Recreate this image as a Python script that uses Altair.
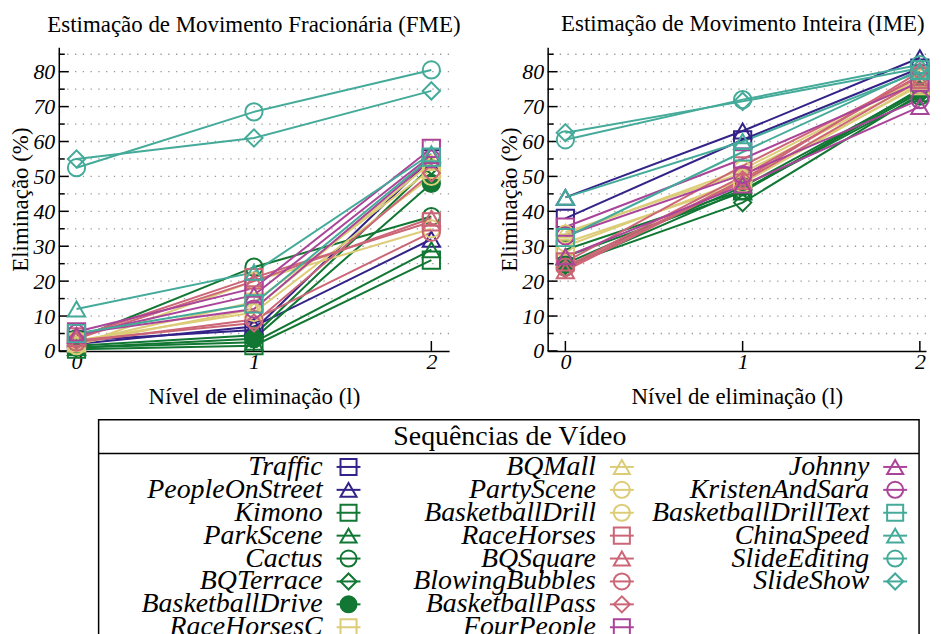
import altair as alt
import pandas as pd

NAMES = ["Traffic", "PeopleOnStreet", "Kimono", "ParkScene", "Cactus", "BQTerrace",
         "BasketballDrive", "RaceHorsesC", "BQMall", "PartyScene", "BasketballDrill",
         "RaceHorses", "BQSquare", "BlowingBubbles", "BasketballPass", "FourPeople",
         "Johnny", "KristenAndSara", "BasketballDrillText", "ChinaSpeed",
         "SlideEditing", "SlideShow"]

INDIGO, GREEN, SAND, ROSE, PURPLE, TEAL = "#332288", "#117733", "#DDCC77", "#CC6677", "#AA4499", "#44AA99"
COLORS = [INDIGO] * 2 + [GREEN] * 5 + [SAND] * 4 + [ROSE] * 4 + [PURPLE] * 3 + [TEAL] * 4
SHAPES = ["square", "triangle-up", "square", "triangle-up", "circle", "diamond",
          "circle", "square", "triangle-up", "circle", "circle",
          "square", "triangle-up", "circle", "diamond", "square",
          "triangle-up", "circle", "square", "triangle-up", "circle", "diamond"]
FILLS = ["transparent"] * 6 + [GREEN] + ["transparent"] * 15

LEVELS = [0, 1, 2]

# Fractional motion estimation (FME), elimination % per level
FME_L0 = [3, 2, 0.5, 1, 3.5, 1.5, 1, 2.5, 2, 1.5, 3, 4, 3.5, 2.5, 3, 5.5, 4.5, 5, 5, 12, 52.5, 55]
FME_L1 = [6, 7, 1.5, 2.5, 24, 4.5, 3.5, 14, 12, 20, 11, 21, 20, 9, 8, 18, 16, 12, 13.5, 22.5, 68.5, 61]
FME_L2 = [55, 32, 26, 29, 38.5, 53, 48, 52, 54, 35, 50, 37, 38, 34, 51, 58, 56, 55, 55.5, 56.5, 80.5, 74.5]

# Integer motion estimation (IME)
IME_L0 = [38, 44, 29, 27, 24, 24.5, 25, 30, 34, 31, 33.5, 25.5, 23, 24, 23.5, 35.5, 27, 33, 32.5, 44, 60.5, 62.5]
IME_L1 = [60.5, 63, 46, 45.5, 46, 42.5, 47, 49, 51, 48, 52, 53, 48.5, 50, 49, 55, 47.5, 50.5, 57, 60, 72, 71.5]
IME_L2 = [81, 84, 74, 75, 73, 73.5, 74.5, 76, 77, 76.5, 78, 78.5, 77.5, 79, 80, 77, 70, 72, 80.5, 80, 82, 81]

GRID_VALUES = [5, 10, 15, 20, 25, 30, 35, 40, 45, 50, 55, 60, 65, 70, 75, 80, 85]
MAJOR_TICKS = [0, 10, 20, 30, 40, 50, 60, 70, 80]
MINOR_TICKS = [5, 15, 25, 35, 45, 55, 65, 75, 85]

LEG_COL = [0] * 8 + [1] * 8 + [2] * 6
LEG_ROW = list(range(8)) + list(range(8)) + list(range(6))

H = 305
SERIF = "Liberation Serif"

color_scale = alt.Scale(domain=NAMES, range=COLORS)
shape_scale = alt.Scale(domain=NAMES, range=SHAPES)
fill_scale = alt.Scale(domain=NAMES, range=FILLS)


def panel(title, l0, l1, l2, width, xmax, tdx):
    rows = []
    for i, n in enumerate(NAMES):
        for lv, vals in zip(LEVELS, (l0, l1, l2)):
            rows.append({"name": n, "level": lv, "value": vals[i], "idx": i})
    df = pd.DataFrame(rows)

    x = alt.X("level:Q", scale=alt.Scale(domain=[-0.1, xmax], nice=False, zero=False),
              axis=alt.Axis(values=LEVELS, format="d", title="Nível de eliminação (l)"))
    y = alt.Y("value:Q", scale=alt.Scale(domain=[0, 87], nice=False),
              axis=alt.Axis(values=MAJOR_TICKS, format="d", title="Eliminação (%)"))

    grid = alt.Chart(pd.DataFrame({"value": GRID_VALUES})).mark_rule(
        color="#999999", strokeWidth=1.3, strokeDash=[1.3, 6.5]).encode(y=y)
    major = alt.Chart(pd.DataFrame({"value": MAJOR_TICKS})).mark_rule(
        color="black", strokeWidth=1.5).encode(y=y, x=alt.value(0), x2=alt.value(10))
    minor = alt.Chart(pd.DataFrame({"value": MINOR_TICKS})).mark_rule(
        color="black", strokeWidth=1.5).encode(y=y, x=alt.value(0), x2=alt.value(6))
    xt = alt.Chart(pd.DataFrame({"level": LEVELS})).mark_rule(
        color="black", strokeWidth=1.5).encode(x=x, y=alt.value(H), y2=alt.value(H - 10))

    base = alt.Chart(df)
    lines = base.mark_line(strokeWidth=2).encode(
        x=x, y=y,
        color=alt.Color("name:N", scale=color_scale, legend=None),
        detail="name:N", order="level:Q")
    points = base.mark_point(size=300, strokeWidth=2, filled=False, opacity=1).encode(
        x=x, y=y,
        color=alt.Color("name:N", scale=color_scale, legend=None),
        shape=alt.Shape("name:N", scale=shape_scale, legend=None),
        fill=alt.Fill("name:N", scale=fill_scale, legend=None))

    return alt.layer(grid, major, minor, xt, lines, points).properties(
        width=width, height=H,
        title=alt.TitleParams(title, font=SERIF, fontSize=23, fontWeight="normal",
                              color="black", frame="group", anchor="middle",
                              offset=10, dx=tdx))


left = panel("Estimação de Movimento Fracionária (FME)", FME_L0, FME_L1, FME_L2, 392, 2.1, 0)
right = panel("Estimação de Movimento Inteira (IME)", IME_L0, IME_L1, IME_L2, 380, 2.0348, 6)

# Custom legend
LW, LH = 868, 230
COLW = 274.5
leg_df = pd.DataFrame({"name": NAMES, "col": LEG_COL, "row": LEG_ROW})
lx = alt.X("col:Q", scale=alt.Scale(domain=[-265.0 / COLW, -265.0 / COLW + LW / COLW], nice=False, zero=False), axis=None)
ly = alt.Y("row:Q", scale=alt.Scale(domain=[-2.065, -2.065 + LH / 23.0], nice=False, zero=False, reverse=True), axis=None)
lbase = alt.Chart(leg_df)
one = alt.Chart(pd.DataFrame({"a": [0]}))

box = one.mark_rect(fill="white", stroke="black", strokeWidth=1.5).encode(
    x=alt.value(40), x2=alt.value(864), y=alt.value(0), y2=alt.value(LH + 20))
sep = one.mark_rule(color="black", strokeWidth=1.5).encode(
    x=alt.value(40), x2=alt.value(864), y=alt.value(34))
ltitle = one.mark_text(text="Sequências de Vídeo", font=SERIF, fontSize=28,
                       color="black", align="center", baseline="middle").encode(
    x=alt.value(453), y=alt.value(17))
ltext = lbase.mark_text(align="right", baseline="middle", font=SERIF, fontStyle="italic",
                        fontSize=28, color="black").encode(x=lx, y=ly, text="name:N")
lrule = lbase.mark_rule(xOffset=14, x2Offset=38, strokeWidth=2).encode(
    x=lx, x2="col:Q", y=ly, color=alt.Color("name:N", scale=color_scale, legend=None))
lpts = lbase.mark_point(xOffset=26, size=260, strokeWidth=2, filled=False, opacity=1).encode(
    x=lx, y=ly,
    color=alt.Color("name:N", scale=color_scale, legend=None),
    shape=alt.Shape("name:N", scale=shape_scale, legend=None),
    fill=alt.Fill("name:N", scale=fill_scale, legend=None))

legend = alt.layer(box, sep, ltitle, ltext, lrule, lpts).properties(width=LW, height=LH)

top = alt.hconcat(left, right, spacing=99, bounds="flush")
chart = alt.vconcat(top, legend, spacing=10).properties(
    padding={"left": 2, "top": 4, "right": 0, "bottom": 0}
).configure_view(stroke=None).configure_axis(
    domainColor="black", domainWidth=1.5, ticks=False, grid=False,
    labelFont=SERIF, labelFontStyle="italic", labelFontSize=22, labelColor="black",
    labelPadding=4, titleFont=SERIF, titleFontSize=23, titleFontWeight="normal",
    titleColor="black", titlePadding=0
).configure_axisX(labelPadding=1, titlePadding=13)

chart.save("out.html", embed_options={"renderer": "svg", "actions": False})
